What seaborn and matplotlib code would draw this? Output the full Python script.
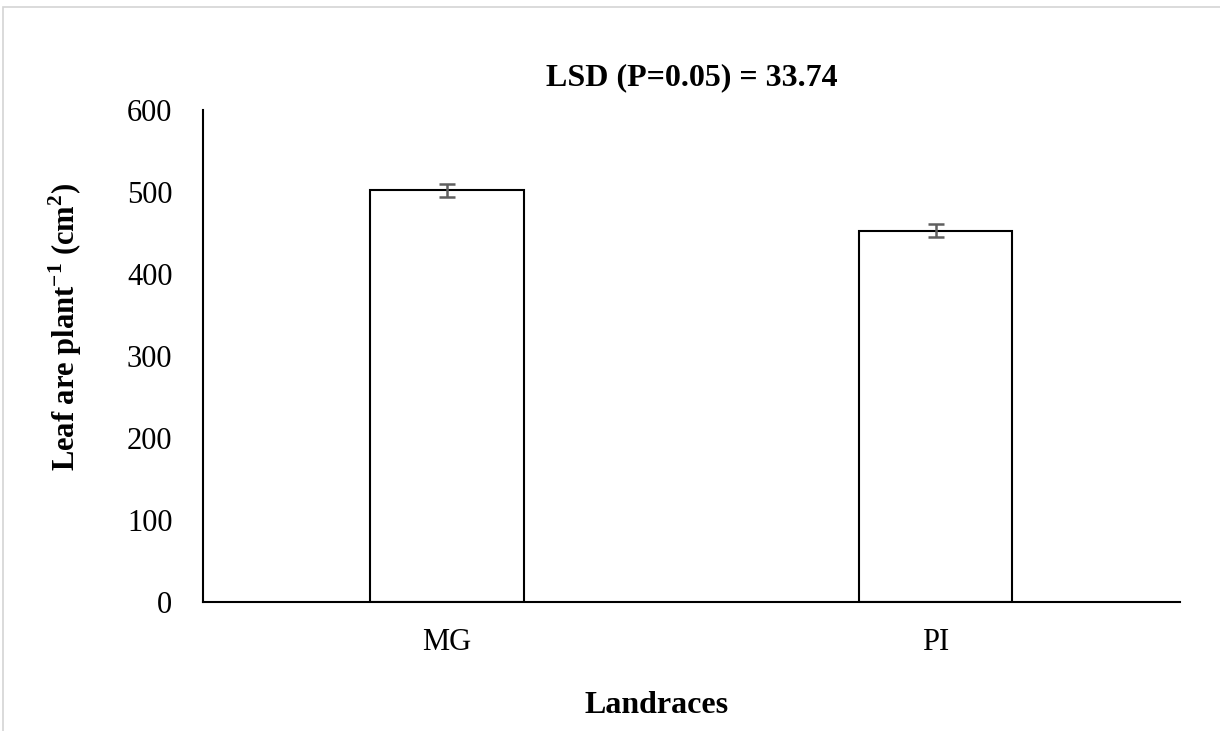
import matplotlib
matplotlib.use("Agg")
import matplotlib.pyplot as plt
import seaborn as sns
import pandas as pd
from matplotlib.patches import Rectangle

# values
landraces = ["MG", "PI"]
leaf_area = [502, 453]
leaf_err = [8, 8]
y_ticks = [0, 100, 200, 300, 400, 500, 600]


def main():
    sns.set_style("white")
    plt.rcParams["font.family"] = ["Liberation Serif", "DejaVu Serif"]
    plt.rcParams["mathtext.fontset"] = "custom"
    plt.rcParams["mathtext.rm"] = "Liberation Serif"
    plt.rcParams["mathtext.bf"] = "Liberation Serif:bold"
    plt.rcParams["text.color"] = "black"
    plt.rcParams["axes.labelcolor"] = "black"
    plt.rcParams["xtick.color"] = "black"
    plt.rcParams["ytick.color"] = "black"

    df = pd.DataFrame({"Landrace": landraces, "Area": leaf_area})

    fig = plt.figure(figsize=(12.2, 7.31), dpi=100)
    ax = fig.add_axes([0.1664, 0.1765, 0.8006, 0.673])

    sns.barplot(data=df, x="Landrace", y="Area", color="white", edgecolor="black",
                linewidth=1.5, width=0.315, errorbar=None, ax=ax)
    ax.errorbar(range(len(landraces)), leaf_area, yerr=leaf_err, fmt="none",
                ecolor="#5f5f5f", elinewidth=1.8, capsize=6, capthick=1.8)

    ax.set_xlim(-0.5, len(landraces) - 0.5)
    ax.set_ylim(0, 600)
    ax.set_yticks(y_ticks)
    ax.tick_params(axis="both", length=0, labelsize=22)
    ax.tick_params(axis="y", pad=22)
    ax.tick_params(axis="x", pad=19)

    for side in ["top", "right"]:
        ax.spines[side].set_visible(False)
    for side in ["left", "bottom"]:
        ax.spines[side].set_color("black")
        ax.spines[side].set_linewidth(1.5)

    ax.set_title("LSD (P=0.05) = 33.74", fontsize=23, fontweight="bold", pad=18)
    ax.set_xlabel("Landraces", fontsize=23, fontweight="bold")
    ax.xaxis.set_label_coords(0.464, -0.18)
    ax.set_ylabel(r"Leaf are plant$^{\mathbf{-1}}$ (cm$^{\mathbf{2}}$)",
                  fontsize=22, fontweight="bold")
    ax.yaxis.set_label_coords(-0.122, 0.559)

    # light frame around the chart area
    fig.patches.append(Rectangle((3 / 1220, -0.05), 1.1, 1 - 7 / 731 + 0.05,
                                 transform=fig.transFigure, fill=False,
                                 edgecolor="#d4d4d4", linewidth=1.2))

    fig.savefig("out.png", dpi=100)


if __name__ == "__main__":
    main()
